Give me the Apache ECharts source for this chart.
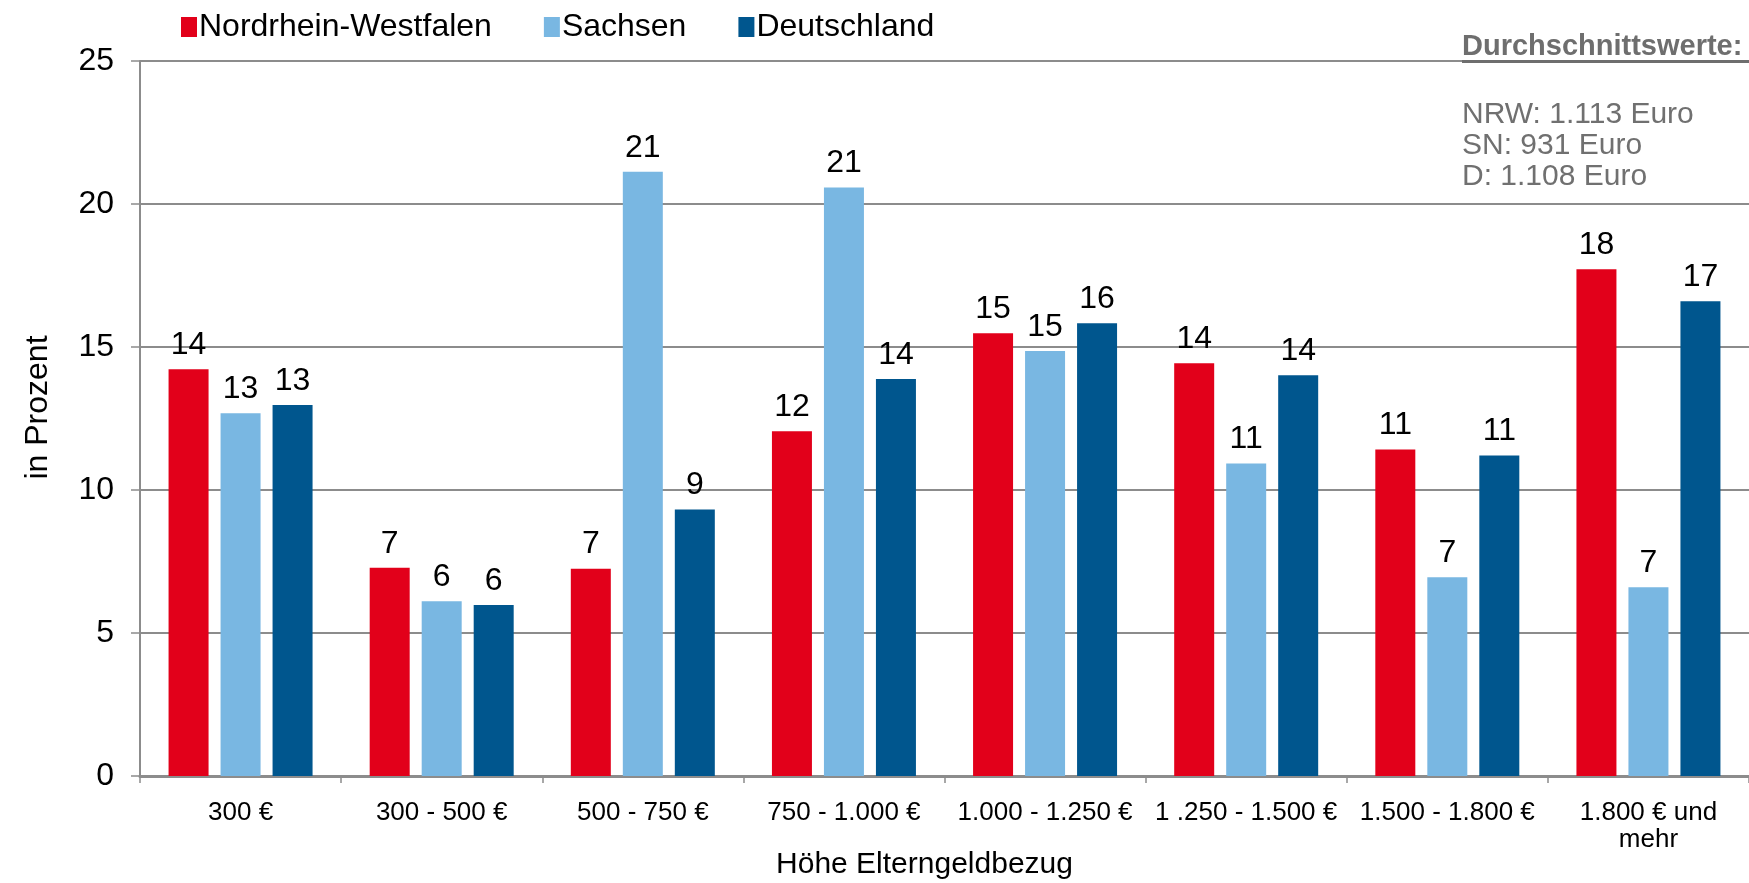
<!DOCTYPE html>
<html>
<head>
<meta charset="utf-8">
<script src="https://cdn.jsdelivr.net/npm/echarts@6/dist/echarts.min.js"></script>
<style>
html,body{margin:0;padding:0;background:#fff;}
#c{width:1749px;height:883px;}
</style>
</head>
<body>
<div id="c"></div>
<script>
const categories = ['300 €', '300 - 500 €', '500 - 750 €', '750 - 1.000 €', '1.000 - 1.250 €', '1 .250 - 1.500 €', '1.500 - 1.800 €', '1.800 € und\nmehr'];
const seriesNames = ['Nordrhein-Westfalen', 'Sachsen', 'Deutschland'];
const nrw = [14.22, 7.28, 7.25, 12.05, 15.48, 14.43, 11.42, 17.72];
const sachsen = [12.68, 6.11, 21.13, 20.58, 14.86, 10.93, 6.95, 6.60];
const deutschland = [12.97, 5.98, 9.32, 13.88, 15.83, 14.01, 11.21, 16.60];
const yTicks = [0, 5, 10, 15, 20, 25];
const noteTitle = 'Durchschnittswerte:';
const noteLines = ['NRW: 1.113 Euro', 'SN: 931 Euro', 'D: 1.108 Euro'];
const colors = ['#e2001a', '#79b7e2', '#00568e'];

const FONT = '"Liberation Sans", Arial, sans-serif';
const chart = echarts.init(document.getElementById('c'));

function barSeries(name, data, color) {
  return {
    name: name,
    type: 'bar',
    data: data,
    barWidth: 40,
    barGap: '30%',
    itemStyle: { color: color },
    label: {
      show: true,
      position: 'top',
      distance: 8,
      fontFamily: FONT,
      fontSize: 32,
      color: '#000',
      formatter: p => Math.round(p.value)
    },
    emphasis: { disabled: true }
  };
}

chart.setOption({
  animation: false,
  textStyle: { fontFamily: FONT },
  color: colors,
  legend: {
    left: 176,
    top: 6,
    itemWidth: 16,
    itemHeight: 20,
    itemGap: 52,
    icon: 'rect',
    textStyle: { fontFamily: FONT, fontSize: 32, color: '#000', padding: [0, 0, 0, -3] },
    data: seriesNames
  },
  grid: { left: 140, right: 0, top: 61, bottom: 107, containLabel: false, outerBoundsMode: 'none' },
  xAxis: {
    type: 'category',
    data: categories,
    name: 'Höhe Elterngeldbezug',
    nameLocation: 'middle',
    nameGap: 74,
    nameMoveOverlap: false,
    nameTextStyle: { fontFamily: FONT, fontSize: 30, color: '#000', padding: [0, 40, 0, 0] },
    axisLine: { lineStyle: { color: '#8c8c8c', width: 3 } },
    axisTick: { show: true, length: 7, lineStyle: { color: '#8c8c8c', width: 1.5 } },
    axisLabel: { interval: 0, margin: 23, fontFamily: FONT, fontSize: 26, color: '#000', lineHeight: 27 }
  },
  yAxis: {
    type: 'value',
    min: yTicks[0],
    max: yTicks[yTicks.length - 1],
    interval: 5,
    name: 'in Prozent',
    nameLocation: 'middle',
    nameGap: 86,
    nameMoveOverlap: false,
    nameTextStyle: { fontFamily: FONT, fontSize: 32, color: '#000', padding: [0, 0, 0, 22] },
    axisLine: { show: true, lineStyle: { color: '#8c8c8c', width: 2 } },
    axisTick: { show: true, length: 9, lineStyle: { color: '#8c8c8c', width: 1.5 } },
    axisLabel: { margin: 26, fontFamily: FONT, fontSize: 32, color: '#000' },
    splitLine: { show: true, lineStyle: { color: '#8c8c8c', width: 2 } }
  },
  series: [
    barSeries(seriesNames[0], nrw, colors[0]),
    barSeries(seriesNames[1], sachsen, colors[1]),
    barSeries(seriesNames[2], deutschland, colors[2])
  ],
  graphic: [
    { type: 'text', left: 1462, top: 32, z: 100,
      style: { text: noteTitle, font: 'bold 29px ' + FONT, fill: '#6e6e6e' } },
    { type: 'rect', shape: { x: 1462, y: 60, width: 287, height: 3 }, z: 100,
      style: { fill: '#6e6e6e' } },
    { type: 'text', left: 1462, top: 99, z: 100,
      style: { text: noteLines.join('\n'), font: '30px ' + FONT, fill: '#707070', lineHeight: 31 } }
  ]
});
</script>
</body>
</html>
